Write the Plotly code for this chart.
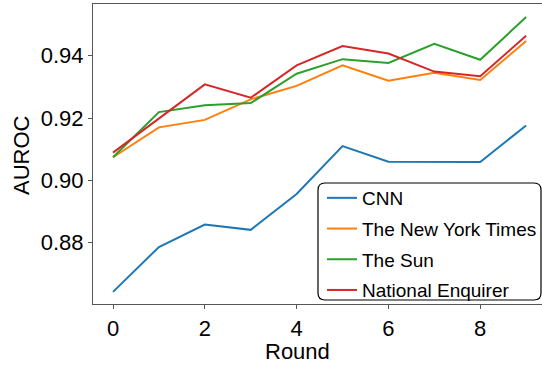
import plotly.graph_objects as go

rounds = list(range(10))
cnn = [0.8642, 0.8786, 0.8858, 0.8841, 0.8956, 0.9110, 0.9060, 0.9059, 0.9059, 0.9176]
nyt = [0.9074, 0.9170, 0.9194, 0.9260, 0.9303, 0.9369, 0.9320, 0.9345, 0.9322, 0.9447]
sun = [0.9074, 0.9219, 0.9241, 0.9248, 0.9342, 0.9389, 0.9377, 0.9438, 0.9387, 0.9524]
nat = [0.9089, 0.9199, 0.9308, 0.9265, 0.9369, 0.9431, 0.9407, 0.9349, 0.9334, 0.9464]
names = ["CNN", "The New York Times", "The Sun", "National Enquirer"]
colors = ["#1f77b4", "#ff7f0e", "#2ca02c", "#d62728"]
series = [cnn, nyt, sun, nat]
x_title = "Round"
y_title = "AUROC"

fig = go.Figure()
for i, (n, c, s) in enumerate(zip(names, colors, series)):
    fig.add_trace(go.Scatter(x=rounds, y=s, mode="lines", name=n, legendgroup=f"g{i}",
                             line=dict(color=c, width=2)))

W, H = 542, 367
L, T, B, R = 93, 4, 63, 0
pw, ph = W - L - R, H - T - B

def px(x):
    return (x - L) / pw

def py(y):
    return (H - B - y) / ph

# rounded legend frame
x0, x1, y0, y1, r = 318, 541, 183, 300, 7
path = (f"M {px(x0 + r)} {py(y0)} L {px(x1 - r)} {py(y0)} "
        f"Q {px(x1)} {py(y0)} {px(x1)} {py(y0 + r)} L {px(x1)} {py(y1 - r)} "
        f"Q {px(x1)} {py(y1)} {px(x1 - r)} {py(y1)} L {px(x0 + r)} {py(y1)} "
        f"Q {px(x0)} {py(y1)} {px(x0)} {py(y1 - r)} L {px(x0)} {py(y0 + r)} "
        f"Q {px(x0)} {py(y0)} {px(x0 + r)} {py(y0)} Z")

fig.update_layout(
    width=W, height=H,
    margin=dict(l=L, r=R, t=T, b=B, autoexpand=False),
    paper_bgcolor="white", plot_bgcolor="white",
    font=dict(family="Liberation Sans, Arial, sans-serif", size=22, color="black"),
    shapes=[dict(type="path", path=path, xref="paper", yref="paper",
                 line=dict(color="black", width=1.2), fillcolor="rgba(255,255,255,0.8)", layer="above")],
    legend=dict(x=px(322), y=py(179), xanchor="left", yanchor="top",
                bgcolor="rgba(0,0,0,0)", borderwidth=0, font=dict(size=19),
                traceorder="grouped", tracegroupgap=3),
    annotations=[
        dict(text=x_title, xref="paper", yref="paper", x=px(297), y=py(351),
             xanchor="center", yanchor="middle", showarrow=False, font=dict(size=22)),
        dict(text=y_title, xref="paper", yref="paper", x=px(21), y=py(155),
             xanchor="center", yanchor="middle", showarrow=False, textangle=-90, font=dict(size=22)),
    ],
    xaxis=dict(range=[-0.436, 9.346], tickvals=[0, 2, 4, 6, 8],
               automargin=False,
               showline=True, linecolor="#555", linewidth=1.2, mirror=True,
               ticks="outside", ticklen=4, tickcolor="#555", showgrid=False, zeroline=False),
    yaxis=dict(range=[0.8603, 0.9566], tickvals=[0.88, 0.90, 0.92, 0.94],
               automargin=False,
               tickformat=".2f", showline=True, linecolor="#555", linewidth=1.2,
               ticks="outside", ticklen=4, tickcolor="#555", showgrid=False, zeroline=False),
)

fig.write_html("out.html", config={"displayModeBar": False},
               post_script="document.body.style.margin='0';")
